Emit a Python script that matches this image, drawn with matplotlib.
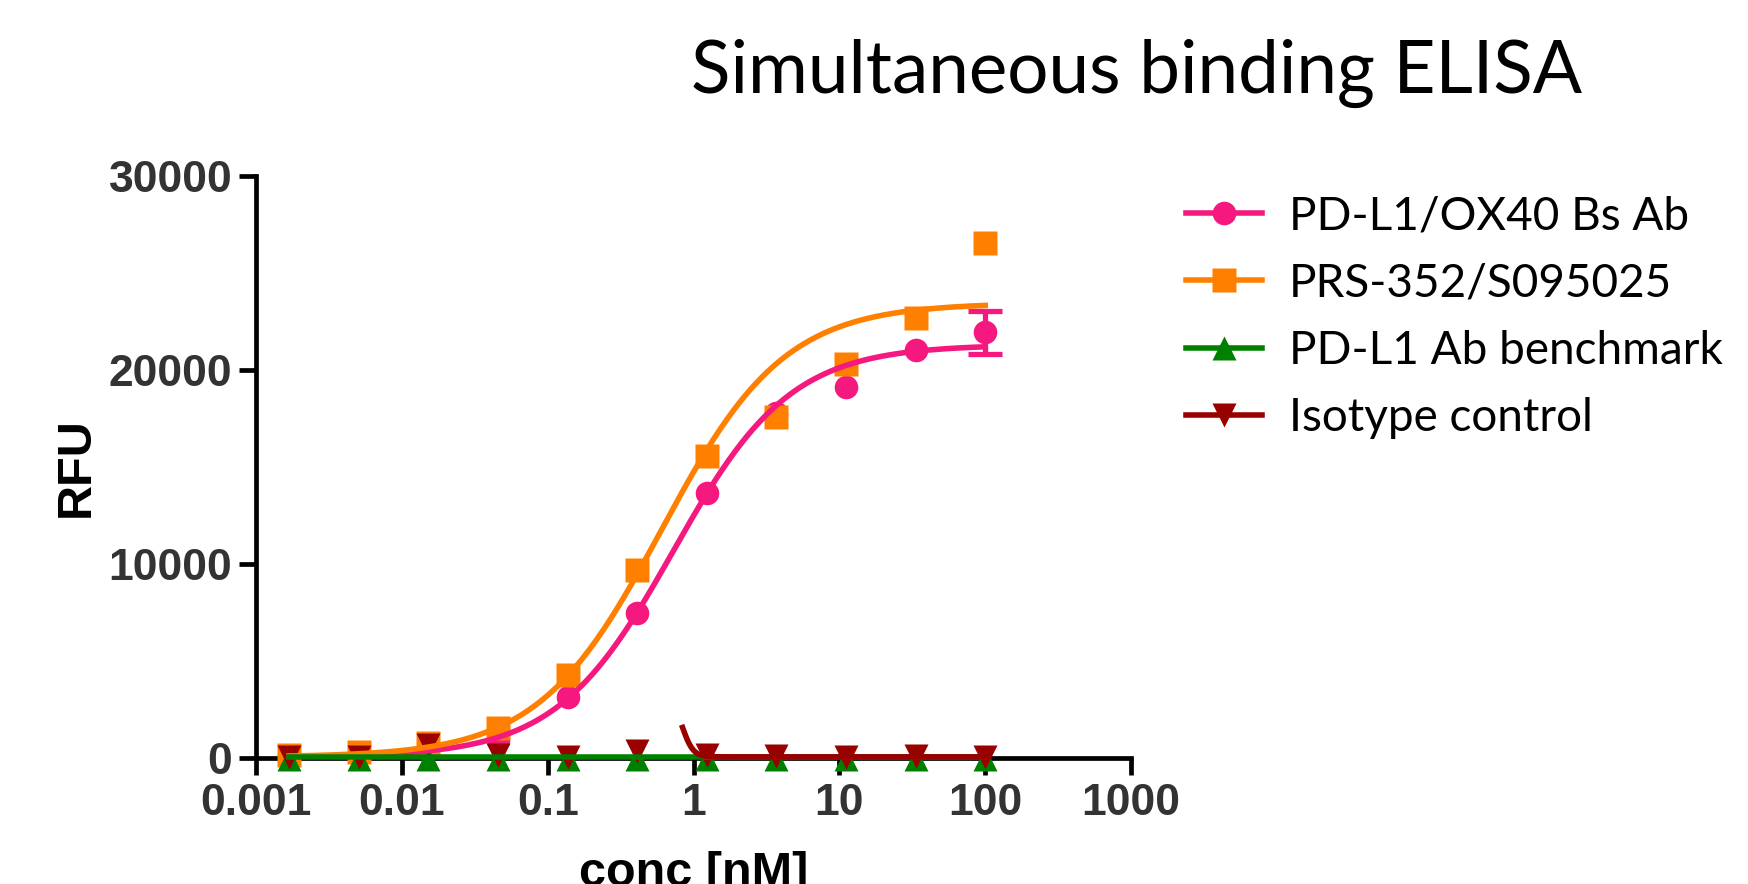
import numpy as np
import matplotlib
matplotlib.use("Agg")
import matplotlib.pyplot as plt
from matplotlib.ticker import FixedLocator, FixedFormatter, NullLocator

# concentrations (3-fold dilution series, nM)
conc = [0.00169, 0.00508, 0.0152, 0.0457, 0.137, 0.412, 1.23, 3.70, 11.1, 33.3, 100]

bs_ab = [100, 200, 500, 950, 3150, 7500, 13650, 17800, 19100, 21050, 21950]
bs_ab_err = [0, 0, 0, 0, 0, 0, 0, 0, 0, 0, 1100]
prs352 = [150, 300, 750, 1550, 4300, 9700, 15550, 17600, 20300, 22700, 26550]
pdl1_bench = [-40, -50, -60, -50, -40, -40, -50, -40, -40, -30, -50]
isotype = [70, 70, 670, 150, 70, 350, 150, 120, 70, 120, 70]

# 4PL fit parameters: bottom, top, logEC50, hill
bs_ab_fit = [50, 21300, -0.139, 1.08]
prs352_fit = [50, 23450, -0.221, 1.03]
pdl1_fit = [30, 30, 0.0, 1.0]
isotype_fit = [3060, 60, -0.075, 12.0]

labels = ["PD-L1/OX40 Bs Ab", "PRS-352/S095025", "PD-L1 Ab benchmark", "Isotype control"]
colors = ["#F5187F", "#FF8000", "#008000", "#990000"]
markers = ["o", "s", "^", "v"]

xticks = [0.001, 0.01, 0.1, 1, 10, 100, 1000]
xticklabels = ["0.001", "0.01", "0.1", "1", "10", "100", "1000"]
yticks = [0, 10000, 20000, 30000]


def four_pl(x, p):
    bottom, top, logc, hill = p
    return bottom + (top - bottom) / (1 + 10 ** ((logc - np.log10(x)) * hill))


fig = plt.figure(figsize=(17.48, 8.84), dpi=100)
ax = fig.add_axes([0.1465, 0.1425, 0.5006, 0.6584])

series = [bs_ab, prs352, pdl1_bench, isotype]
fits = [bs_ab_fit, prs352_fit, pdl1_fit, isotype_fit]
fit_start = [conc[0], conc[0], conc[0], 0.84]

for i in range(4):
    xs = np.logspace(np.log10(fit_start[i]), np.log10(conc[-1]), 300)
    ax.plot(xs, four_pl(xs, fits[i]), color=colors[i], lw=4, zorder=3 + i * 0.1,
            clip_on=False)
    if i == 0:
        ax.errorbar(conc[-1:], series[i][-1:], yerr=bs_ab_err[-1:], fmt="none",
                    ecolor=colors[i], elinewidth=3.8, capsize=12, capthick=3.8,
                    zorder=3, clip_on=False)
    ax.plot(conc, series[i], ls="none", marker=markers[i], ms=17, color=colors[i],
            mec="none", zorder=2.5 + i * 0.1, clip_on=False)

# legend proxies
handles = []
for i in range(4):
    h, = ax.plot([], [], color=colors[i], lw=4, marker=markers[i], ms=17, mec="none")
    handles.append(h)
fig.legend(handles, labels, loc="upper left", bbox_to_anchor=(0.668, 0.800),
           frameon=False, prop={"family": "Lato", "size": 33}, handlelength=1.65,
           handletextpad=0.6, labelspacing=0.55, borderaxespad=0)

ax.set_xscale("log")
ax.set_xlim(0.001, 1000)
ax.set_ylim(0, 30000)
ax.xaxis.set_major_locator(FixedLocator(xticks))
ax.xaxis.set_major_formatter(FixedFormatter(xticklabels))
ax.xaxis.set_minor_locator(NullLocator())
ax.set_yticks(yticks)
ax.set_yticklabels([str(v) for v in yticks])

for side in ["top", "right"]:
    ax.spines[side].set_visible(False)
for side in ["left", "bottom"]:
    ax.spines[side].set_linewidth(3.4)
ax.tick_params(axis="both", length=12, width=3.4, color="black", labelcolor="#333333",
               labelsize=32)
ax.tick_params(axis="x", pad=6)
ax.tick_params(axis="y", pad=5)
for lab in ax.get_xticklabels() + ax.get_yticklabels():
    lab.set_fontfamily("Liberation Sans")
    lab.set_fontweight("bold")

ax.set_ylabel("RFU", fontsize=35, fontweight="bold", family="Liberation Sans")
ax.yaxis.set_label_coords(-0.18, 0.5)
ax.set_xlabel("conc [nM]", fontsize=35, fontweight="bold", family="Liberation Sans")
ax.xaxis.set_label_coords(0.5, -0.16)

fig.text(0.65, 0.917, "Simultaneous binding ELISA", ha="center", va="center",
         fontsize=52.5, family="Lato")

fig.savefig("out.png", dpi=100)
